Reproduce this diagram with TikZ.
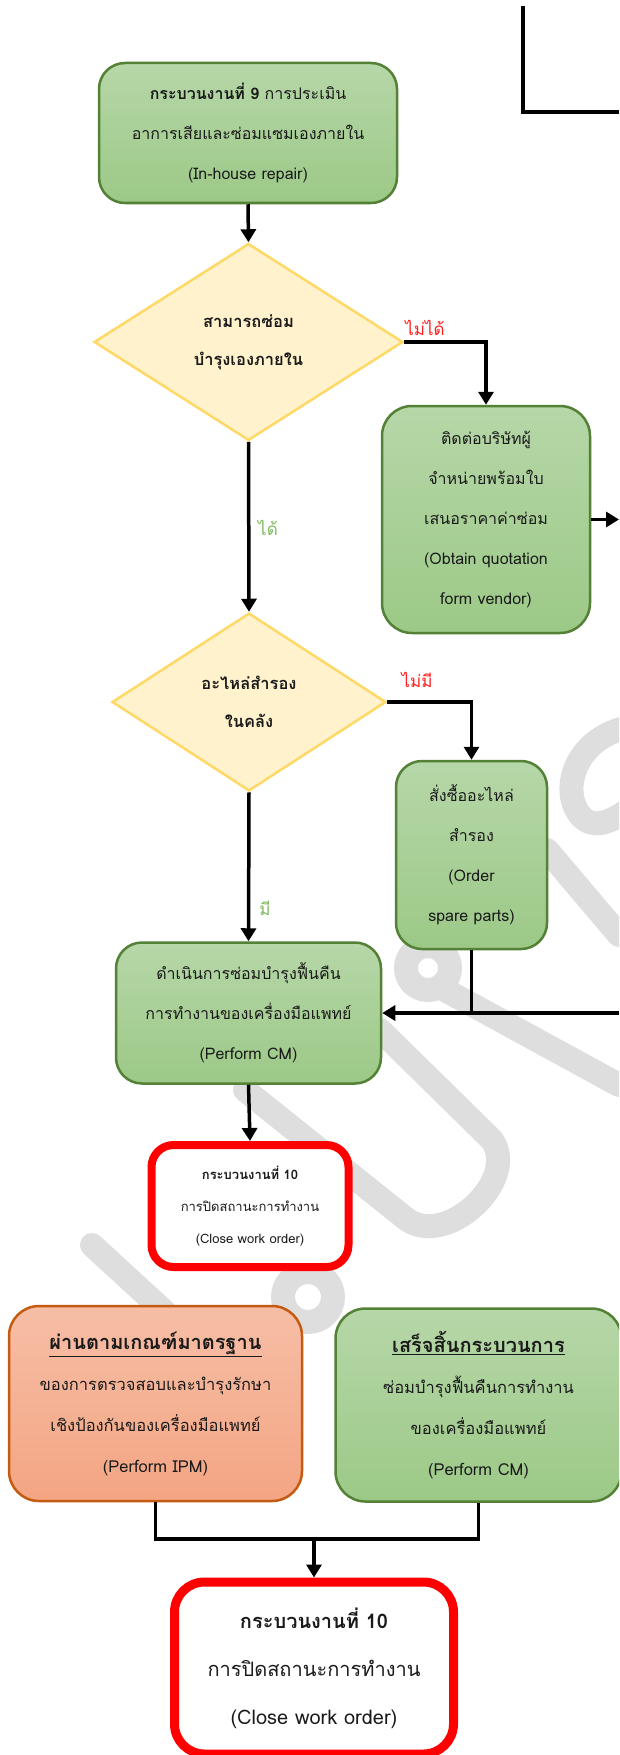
\documentclass[tikz,border=0pt]{standalone}
\usepackage{fontspec}
\setmainfont[Script=Thai]{Loma}
\usetikzlibrary{arrows.meta,shapes.geometric,calc}

\definecolor{gtop}{HTML}{B6D7A8}
\definecolor{gbot}{HTML}{9CC987}
\definecolor{gline}{HTML}{538135}
\definecolor{otop}{HTML}{F6BEA6}
\definecolor{obot}{HTML}{F4A583}
\definecolor{oline}{HTML}{C55A11}
\definecolor{dfill}{HTML}{FFF2CC}
\definecolor{dline}{HTML}{FFD966}
\definecolor{wmgray}{HTML}{DEDEDE}
\definecolor{nored}{HTML}{FF2020}
\definecolor{yesgreen}{HTML}{7DBB5E}
\definecolor{txt}{HTML}{1A1A1A}

\newcommand\setfs[2]{\fontsize{#1}{#2}\selectfont}

\tikzset{
  wmstroke/.style={draw=wmgray, line width=24pt, line cap=round, line join=round},
  gbox/.style={draw=gline, line width=2.5pt, rounded corners=26pt,
    top color=gtop, bottom color=gbot, align=center, inner sep=0pt,
    text=txt, font=\setfs{16}{40}},
  obox/.style={draw=oline, line width=2.5pt, rounded corners=30pt,
    top color=otop, bottom color=obot, align=center, inner sep=0pt,
    text=txt, font=\setfs{16.5}{41}},
  decide/.style={shape=diamond, draw=dline, line width=2.5pt, fill=dfill,
    align=center, inner sep=0pt, text=txt, font=\bfseries\setfs{16.5}{38}},
  closebox/.style={draw=red, fill=white, align=center, inner sep=0pt, text=txt},
  arr/.style={line width=3.5pt, -{Triangle[width=15pt,length=13pt]}},
  link/.style={line width=3.5pt},
  nolabel/.style={text=nored, font=\setfs{17}{20}},
  yeslabel/.style={text=yesgreen, font=\setfs{17}{20}}
}

\begin{document}
\begin{tikzpicture}[x=1pt,y=-1pt]
\useasboundingbox (0,0) rectangle (619,1755);
\clip (0,0) rectangle (619,1755);
\fill[white] (0,0) rectangle (619,1755);

% faint background lettering
\draw[wmstroke] (92,1245) -- (215,1358);
\draw[wmstroke] (308,1297) circle[radius=25pt];
\draw[wmstroke] (245,1090) -- (405,1218) .. controls (445,1250) and (520,1180) .. (492,1140) -- (380,1030);
\draw[wmstroke] (428,968) circle[radius=22pt];
\draw[wmstroke] (445,990) -- (619,1085);
\draw[wmstroke] (625,728) .. controls (575,740) and (560,790) .. (580,815) .. controls (592,830) and (610,822) .. (625,812);
\draw[wmstroke] (547,850) -- (619,935);

% incoming connector from the previous stage
\coordinate (topin) at (523,6);
\coordinate (topbend) at (523,112);
\coordinate (topout) at (619,112);
\draw[link] (topin) -- (topbend) -- (topout);

% process 9
\node[gbox, minimum width=298pt, minimum height=140pt] (p9) at (248,133)
  {\textbf{กระบวนงานที่ 9} การประเมิน\\อาการเสียและซ่อมแซมเองภายใน\\(In-house repair)};

% decision: repair in-house?
\node[decide, minimum width=309pt, minimum height=197pt] (d1) at (248.5,342)
  {สามารถซ่อม\\บำรุงเองภายใน};

% vendor quotation
\node[gbox, rounded corners=30pt, minimum width=208pt, minimum height=227pt] (quote) at (486,519.5)
  {ติดต่อบริษัทผู้\\จำหน่ายพร้อมใบ\\เสนอราคาค่าซ่อม\\(Obtain quotation\\form vendor)};

% decision: spare parts in stock?
\node[decide, minimum width=274pt, minimum height=178pt] (d2) at (249,702)
  {อะไหล่สำรอง\\ในคลัง};

% order spare parts
\node[gbox, minimum width=151pt, minimum height=188pt] (spare) at (471.5,855)
  {สั่งซื้ออะไหล่\\สำรอง\\(Order\\spare parts)};

% perform CM
\node[gbox, minimum width=265pt, minimum height=141pt] (cm) at (248.5,1013)
  {ดำเนินการซ่อมบำรุงฟื้นคืน\\การทำงานของเครื่องมือแพทย์\\(Perform CM)};

% close work order (small)
\node[closebox, line width=8pt, rounded corners=22pt, minimum width=197pt, minimum height=122pt,
  font=\setfs{13}{32}] (close1) at (250,1206)
  {\textbf{กระบวนงานที่ 10}\\การปิดสถานะการทำงาน\\(Close work order)};

% IPM passed
\node[obox, minimum width=293pt, minimum height=195pt] (ipm) at (155.5,1403.5)
  {{\bfseries\setfs{20}{45}\underline{ผ่านตามเกณฑ์มาตรฐาน}}\\ของการตรวจสอบและบำรุงรักษา\\เชิงป้องกันของเครื่องมือแพทย์\\(Perform IPM)};

% CM finished
\node[gbox, rounded corners=30pt, font=\setfs{16.5}{41}, minimum width=286pt, minimum height=193pt] (cmdone) at (478.5,1405)
  {{\bfseries\setfs{20}{45}\underline{เสร็จสิ้นกระบวนการ}}\\ซ่อมบำรุงฟื้นคืนการทำงาน\\ของเครื่องมือแพทย์\\(Perform CM)};

% close work order (large)
\node[closebox, line width=9pt, rounded corners=30pt, minimum width=279pt, minimum height=172pt,
  font=\setfs{20}{48}] (close2) at (314,1668)
  {\textbf{กระบวนงานที่ 10}\\การปิดสถานะการทำงาน\\(Close work order)};

% branch labels
\node[nolabel] (l1no) at (425,328) {ไม่ได้};
\node[yeslabel] (l1yes) at (268,528) {ได้};
\node[nolabel] (l2no) at (417,680) {ไม่มี};
\node[yeslabel] (l2yes) at (265,908) {มี};

% connectors
\draw[arr] (p9.south) -- (d1.north);
\draw[arr] (d1.east) -| (quote.north);
\coordinate (quoteout) at (619,519.5);
\draw[arr] (quote.east) -- (quoteout);
\draw[arr] (d1.south) -- (d2.north);
\draw[arr] (d2.east) -| (spare.north);
\draw[arr] (d2.south) -- (cm.north);
\coordinate (cmjoin) at (spare.south |- cm.east);
\coordinate (cmin) at (619,1013);
\draw[link] (spare.south) -- (cmjoin);
\draw[arr] (cmin) -- (cm.east);
\draw[arr] (cm.south) -- (close1.north);
\coordinate (mergey) at (0,1539);
\coordinate (mergemid) at (close2.north |- mergey);
\draw[link] (ipm.south) -- (ipm.south |- mergey) -- (cmdone.south |- mergey) -- (cmdone.south);
\draw[arr] (mergemid) -- (close2.north);
\end{tikzpicture}
\end{document}
